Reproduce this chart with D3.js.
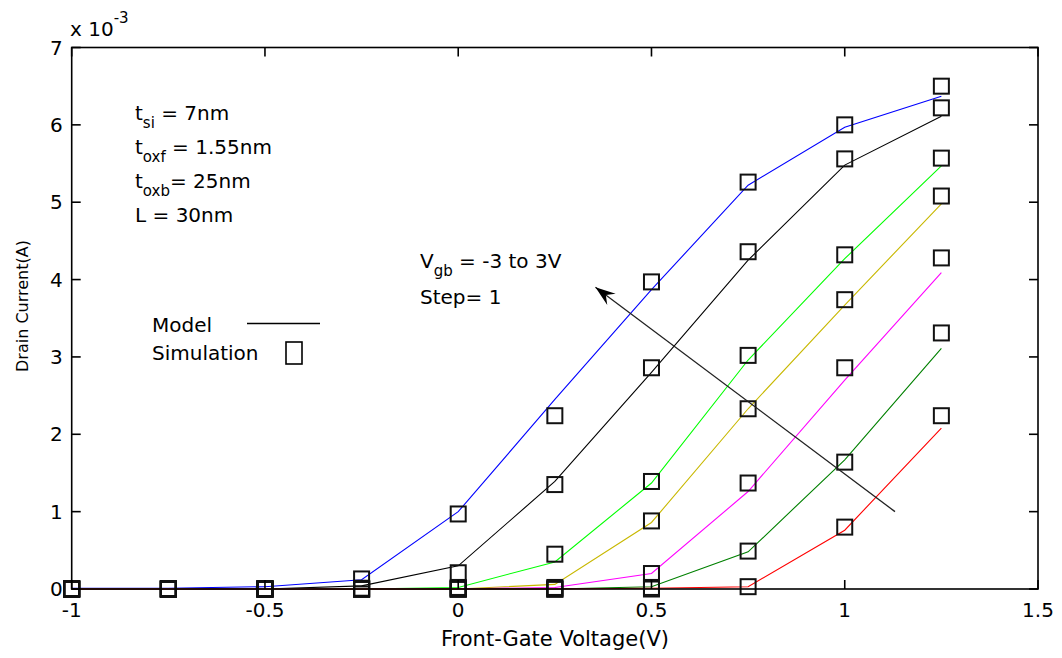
<!DOCTYPE html>
<html>
<head>
<meta charset="utf-8">
<script src="https://cdn.jsdelivr.net/npm/d3@7/dist/d3.min.js"></script>
<style>
  body { margin: 0; background: #fff; }
  text { font-family: "DejaVu Sans", "Liberation Sans", sans-serif; fill: #000; }
</style>
</head>
<body>
<svg id="chart" width="1062" height="658"></svg>
<script>
// Front-gate voltage sweep (V)
const gateVoltage = [-1, -0.75, -0.5, -0.25, 0, 0.25, 0.5, 0.75, 1, 1.25];

// Back-gate bias for each curve (V), from 3 down to -3
const backGateBias = [3, 2, 1, 0, -1, -2, -3];
const seriesColors = ["#0000ff", "#000000", "#00ff00", "#c8b800", "#ff00ff", "#008000", "#ff0000"];

// Analytical model drain current (x 10^-3 A), one row per back-gate bias
const modelVgb3  = [0.01, 0.01, 0.03, 0.12, 1.00, 2.45, 3.87, 5.22, 5.97, 6.37];
const modelVgb2  = [0.00, 0.00, 0.00, 0.04, 0.30, 1.39, 2.80, 4.25, 5.48, 6.11];
const modelVgb1  = [0.00, 0.00, 0.00, 0.00, 0.02, 0.35, 1.37, 2.96, 4.27, 5.47];
const modelVgb0  = [0.00, 0.00, 0.00, 0.00, 0.00, 0.06, 0.86, 2.33, 3.67, 4.98];
const modelVgbM1 = [0.00, 0.00, 0.00, 0.00, 0.00, 0.02, 0.20, 1.26, 2.70, 4.09];
const modelVgbM2 = [0.00, 0.00, 0.00, 0.00, 0.00, 0.00, 0.03, 0.48, 1.67, 3.11];
const modelVgbM3 = [0.00, 0.00, 0.00, 0.00, 0.00, 0.00, 0.01, 0.03, 0.76, 2.08];

// Device simulation drain current (x 10^-3 A)
const simVgb3  = [0, 0, 0, 0.13, 0.97, 2.24, 3.97, 5.26, 6.00, 6.50];
const simVgb2  = [0, 0, 0, 0.01, 0.21, 1.35, 2.86, 4.36, 5.56, 6.22];
const simVgb1  = [0, 0, 0, 0.00, 0.02, 0.45, 1.39, 3.02, 4.32, 5.57];
const simVgb0  = [0, 0, 0, 0.00, 0.00, 0.02, 0.88, 2.33, 3.74, 5.08];
const simVgbM1 = [0, 0, 0, 0.00, 0.00, 0.00, 0.20, 1.37, 2.86, 4.28];
const simVgbM2 = [0, 0, 0, 0.00, 0.00, 0.00, 0.02, 0.49, 1.64, 3.31];
const simVgbM3 = [0, 0, 0, 0.00, 0.00, 0.00, 0.00, 0.03, 0.80, 2.24];

const modelCurrent = [modelVgb3, modelVgb2, modelVgb1, modelVgb0, modelVgbM1, modelVgbM2, modelVgbM3];
const simCurrent = [simVgb3, simVgb2, simVgb1, simVgb0, simVgbM1, simVgbM2, simVgbM3];

const xTicks = [-1, -0.5, 0, 0.5, 1, 1.5];
const xTickLabels = ["-1", "-0.5", "0", "0.5", "1", "1.5"];
const yTicks = [0, 1, 2, 3, 4, 5, 6, 7];

// Arrow showing direction of increasing back-gate bias (data units)
const arrowFrom = [1.13, 1.0];
const arrowTo = [0.355, 3.9];

const svg = d3.select("#chart");
const plotLeft = 71.7, plotRight = 1038, plotTop = 47.5, plotBottom = 589;

const x = d3.scaleLinear().domain([-1, 1.5]).range([plotLeft, plotRight]);
const y = d3.scaleLinear().domain([0, 7]).range([plotBottom, plotTop]);

// Curves from the model
const line = d3.line().x((d, i) => x(gateVoltage[i])).y(d => y(d));
const curves = svg.append("g").attr("fill", "none").attr("stroke-width", 1.1);
modelCurrent.forEach((vals, k) => {
  curves.append("path")
    .attr("d", line(vals))
    .attr("stroke", seriesColors[k]);
});

// Simulation points as open squares
const sq = 15;
const marks = svg.append("g").attr("fill", "none").attr("stroke", "#111").attr("stroke-width", 2);
simCurrent.forEach(vals => {
  vals.forEach((v, i) => {
    marks.append("rect")
      .attr("x", x(gateVoltage[i]) - sq / 2)
      .attr("y", y(v) - sq / 2)
      .attr("width", sq)
      .attr("height", sq);
  });
});

// Axes box with inward ticks on all four sides
const axes = svg.append("g").attr("stroke", "#000").attr("stroke-width", 1.6);
axes.append("rect").attr("x", plotLeft).attr("y", plotTop)
  .attr("width", plotRight - plotLeft).attr("height", plotBottom - plotTop).attr("fill", "none");
const tl = 9;
yTicks.forEach(t => {
  axes.append("line").attr("x1", plotLeft).attr("x2", plotLeft + tl).attr("y1", y(t)).attr("y2", y(t));
  axes.append("line").attr("x1", plotRight).attr("x2", plotRight - tl).attr("y1", y(t)).attr("y2", y(t));
});
xTicks.forEach(t => {
  axes.append("line").attr("x1", x(t)).attr("x2", x(t)).attr("y1", plotBottom).attr("y2", plotBottom - tl);
  axes.append("line").attr("x1", x(t)).attr("x2", x(t)).attr("y1", plotTop).attr("y2", plotTop + tl);
});

// Tick labels
svg.append("g").attr("font-size", 20).attr("text-anchor", "end")
  .selectAll("text").data(yTicks).join("text")
  .attr("x", plotLeft - 9).attr("y", d => y(d) + 7).text(d => d);
svg.append("g").attr("font-size", 20).attr("text-anchor", "middle")
  .selectAll("text").data(xTicks).join("text")
  .attr("x", d => x(d)).attr("y", 617).text((d, i) => xTickLabels[i]);

// Exponent label
const expo = svg.append("text").attr("x", 70).attr("y", 36).attr("font-size", 20);
expo.append("tspan").text("x 10");
expo.append("tspan").attr("font-size", 15).attr("dy", -13).text("-3");

// Axis titles
svg.append("text").attr("x", 555).attr("y", 646).attr("font-size", 21)
  .attr("text-anchor", "middle").text("Front-Gate Voltage(V)");
svg.append("text").attr("transform", "translate(28,306) rotate(-90)")
  .attr("font-size", 16).attr("text-anchor", "middle").text("Drain Current(A)");

// Device parameters
function subText(px, py, main, sub, rest) {
  const t = svg.append("text").attr("x", px).attr("y", py).attr("font-size", 20);
  t.append("tspan").text(main);
  if (sub) t.append("tspan").attr("font-size", 15).attr("dy", 8).text(sub);
  t.append("tspan").attr("dy", sub ? -8 : 0).text(rest);
}
subText(135, 120, "t", "si", " = 7nm");
subText(135, 154, "t", "oxf", " = 1.55nm");
subText(135, 188, "t", "oxb", "= 25nm");
subText(135, 222, "L", null, " = 30nm");

subText(420, 268, "V", "gb", " = -3 to 3V");
subText(420, 304, "Step= 1", null, "");

// Legend
svg.append("text").attr("x", 152).attr("y", 332).attr("font-size", 20).text("Model");
svg.append("line").attr("x1", 247).attr("x2", 320).attr("y1", 323.5).attr("y2", 323.5)
  .attr("stroke", "#000").attr("stroke-width", 1.4);
svg.append("text").attr("x", 152).attr("y", 360).attr("font-size", 20).text("Simulation");
svg.append("rect").attr("x", 286).attr("y", 342).attr("width", 16).attr("height", 22)
  .attr("fill", "none").attr("stroke", "#000").attr("stroke-width", 1.6);

// Arrow
const ax0 = x(arrowFrom[0]), ay0 = y(arrowFrom[1]);
const ax1 = x(arrowTo[0]), ay1 = y(arrowTo[1]);
svg.append("line").attr("x1", ax0).attr("y1", ay0).attr("x2", ax1).attr("y2", ay1)
  .attr("stroke", "#222").attr("stroke-width", 1.3);
const ang = Math.atan2(ay1 - ay0, ax1 - ax0);
const hl = 20, hw = 7;
const bx = ax1 - hl * Math.cos(ang), by = ay1 - hl * Math.sin(ang);
const head = [
  [ax1, ay1],
  [bx + hw * Math.sin(ang), by - hw * Math.cos(ang)],
  [bx + 0.35 * hl * Math.cos(ang), by + 0.35 * hl * Math.sin(ang)],
  [bx - hw * Math.sin(ang), by + hw * Math.cos(ang)]
];
svg.append("path").attr("d", "M" + head.map(p => p.join(",")).join("L") + "Z").attr("fill", "#000");
</script>
</body>
</html>
